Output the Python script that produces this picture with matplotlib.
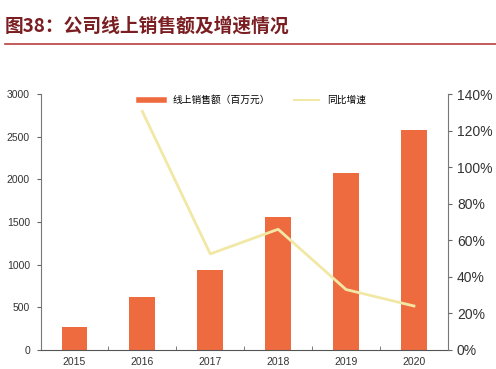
import matplotlib
matplotlib.use("Agg")
import matplotlib.pyplot as plt
from matplotlib.lines import Line2D
import numpy as np

plt.rcParams['font.family'] = ['Liberation Sans', 'Noto Sans CJK SC', 'DejaVu Sans']

years = ['2015', '2016', '2017', '2018', '2019', '2020']
sales = [270, 620, 938, 1560, 2075, 2580]
growth = [None, 130.5, 52.5, 66.0, 33.0, 24.0]
sales_label = '线上销售额（百万元）'
growth_label = '同比增速'
title = '图38：公司线上销售额及增速情况'

bar_color = '#EE6B40'
line_color = '#F2E8A6'

fig = plt.figure(figsize=(4.96, 3.69), dpi=100)
fig.text(0.01, 0.93, title, fontsize=13.5, fontweight='bold', color='#7A1E22', va='center', ha='left',
         family=['Noto Sans CJK SC', 'DejaVu Sans'])
fig.add_artist(Line2D([0.01, 1.0], [0.882, 0.882], color='#B8403F', lw=1.2))

ax = fig.add_axes([0.083, 0.052, 0.82, 0.693])
x = np.arange(len(years))
ax.bar(x, sales, width=0.38, color=bar_color, zorder=2)
ax.set_xlim(-0.49, 5.5)
ax.set_ylim(0, 3000)
ax.set_yticks(range(0, 3001, 500))
ax.set_xticks(x)
ax.set_xticklabels(years)
ax.set_xticks(x[:-1] + 0.5, minor=True)
ax.tick_params(axis='x', which='major', length=0, labelsize=7.5, pad=5, colors='#333333')
ax.tick_params(axis='x', which='minor', length=3, direction='in', color='#666666')
ax.tick_params(axis='y', labelsize=7.5, length=3, color='#666666', labelcolor='#333333', pad=5)
ax.spines['top'].set_visible(False)
ax.spines['right'].set_visible(False)
ax.spines['left'].set_color('#777777')
ax.spines['bottom'].set_color('#555555')

ax2 = ax.twinx()
gx = [xi for xi, g in zip(x, growth) if g is not None]
gy = [g for g in growth if g is not None]
ax2.plot(gx, gy, color=line_color, lw=2, zorder=3)
ax2.set_ylim(0, 140)
ax2.set_yticks(range(0, 141, 20))
ax2.set_yticklabels([f'{v}%' for v in range(0, 141, 20)])
ax2.tick_params(axis='y', labelsize=10, length=3, color='#666666', labelcolor='#333333')
ax2.spines['top'].set_visible(False)
ax2.spines['left'].set_visible(False)
ax2.spines['bottom'].set_visible(False)
ax2.spines['right'].set_color('#777777')

handles = [Line2D([0], [0], color=bar_color, lw=4),
           Line2D([0], [0], color=line_color, lw=1.5)]
leg = ax.legend(handles, [sales_label, growth_label], loc='upper center', bbox_to_anchor=(0.52, 1.03),
                ncol=2, frameon=False, handlelength=2.6, columnspacing=2.5,
                prop={'family': ['Noto Sans CJK SC', 'DejaVu Sans'], 'size': 7})

fig.savefig('out.png', dpi=100)
